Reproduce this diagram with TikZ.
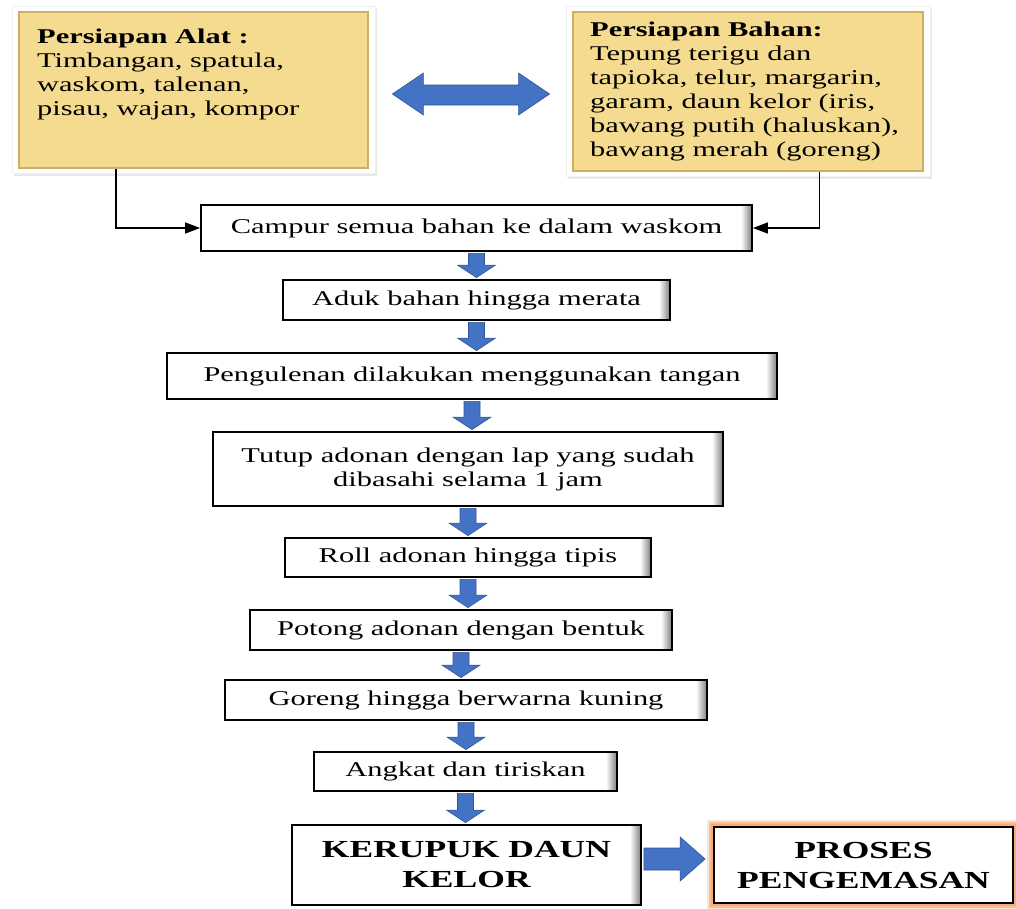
\documentclass[tikz,border=0pt]{standalone}
\usepackage{fontspec}
\setmainfont[FakeStretch=1.45]{Liberation Serif}
\usetikzlibrary{calc,shadows,arrows.meta,backgrounds}
\definecolor{ablue}{HTML}{4472C4}
\definecolor{ablueedge}{HTML}{2F5597}
\definecolor{yel}{HTML}{F5DB8F}
\definecolor{yeledge}{HTML}{CFAE62}
\definecolor{glow}{HTML}{F4B183}
\newcommand\blockdown[2]{%
  \filldraw[blockarrow] let \p1=(#1.south), \p2=(#2.north) in
    (\x1-8pt,\y1-1.5pt) -- (\x1+8pt,\y1-1.5pt) -- (\x1+8pt,\y2+14pt) --
    (\x1+19pt,\y2+14pt) -- (\x1,\y2+1.5pt) -- (\x1-19pt,\y2+14pt) --
    (\x1-8pt,\y2+14pt) -- cycle;}
\begin{document}
\begin{tikzpicture}[x=1pt,y=-1pt,
  flow/.style={draw=black, line width=1.8pt, inner sep=0pt, align=center,
    font=\fontsize{21}{24}\selectfont},
  bigflow/.style={flow, font=\fontsize{24.5}{30}\selectfont\bfseries},
  outerbox/.style={fill=white, draw=black!6, line width=0.8pt, inner sep=0pt,
    drop shadow={shadow xshift=2pt, shadow yshift=-3pt, opacity=0.18}},
  yelbox/.style={fill=yel, draw=yeledge, line width=2.5pt, inner sep=0pt},
  ytext/.style={inner sep=0pt, align=left, font=\fontsize{21}{24}\selectfont},
  conn/.style={line width=1.5pt, -{Triangle[length=15pt,width=11pt]}},
  blockarrow/.style={fill=ablue, draw=ablueedge, line width=0.6pt}]
\useasboundingbox (0,0) rectangle (1016,908);

% top boxes
\node[outerbox, minimum width=363, minimum height=167] (alatout) at (193.5,89.5) {};
\node[yelbox, minimum width=349, minimum height=156] (alat) at (193.5,90) {};
\node[ytext, anchor=north west] (alattxt) at (37,29)
  {\textbf{Persiapan Alat :}\\Timbangan, spatula,\\waskom, talenan,\\pisau, wajan, kompor};

\node[outerbox, minimum width=364, minimum height=170] (bahanout) at (748,91) {};
\node[yelbox, minimum width=350, minimum height=159] (bahan) at (748,91.5) {};
\node[ytext, anchor=north west] (bahantxt) at (590,22)
  {\textbf{Persiapan Bahan:}\\Tepung terigu dan\\tapioka, telur, margarin,\\garam, daun kelor (iris,\\bawang putih (haluskan),\\bawang merah (goreng)};

% double arrow
\filldraw[blockarrow] let \p1=(alatout.east), \p2=(bahanout.west) in
  (\x1+17pt,-94pt) -- (\x1+48pt,-73pt) -- (\x1+48pt,-85pt) -- (\x2-47pt,-85pt) --
  (\x2-47pt,-73pt) -- (\x2-16pt,-94pt) -- (\x2-47pt,-115pt) -- (\x2-47pt,-105pt) --
  (\x1+48pt,-105pt) -- (\x1+48pt,-115pt) -- cycle;

% flow boxes
\node[flow, minimum width=551, minimum height=46] (campur) at (476.5,228) {Campur semua bahan ke dalam waskom};
\node[flow, minimum width=387, minimum height=40] (aduk) at (476.5,300) {Aduk bahan hingga merata};
\node[flow, minimum width=610, minimum height=46] (uleni) at (472,376) {Pengulenan dilakukan menggunakan tangan};
\node[flow, minimum width=510, minimum height=74] (tutup) at (468,469) {Tutup adonan dengan lap yang sudah\\dibasahi selama 1 jam};
\node[flow, minimum width=366, minimum height=39] (roll) at (468,557.5) {Roll adonan hingga tipis};
\node[flow, minimum width=422, minimum height=40] (potong) at (461,630) {Potong adonan dengan bentuk};
\node[flow, minimum width=482, minimum height=40] (goreng) at (466,700) {Goreng hingga berwarna kuning};
\node[flow, minimum width=303, minimum height=39] (angkat) at (465.5,771.5) {Angkat dan tiriskan};
\node[bigflow, minimum width=349, minimum height=80] (kerupuk) at (466.5,865) {KERUPUK DAUN\\KELOR};
\node[bigflow, minimum width=299, minimum height=76] (proses) at (863.5,865) {PROSES\\PENGEMASAN};

\begin{pgfonlayer}{background}
  \foreach \n in {campur,aduk,uleni,tutup,roll,potong,goreng,angkat,kerupuk}{
    \shade[left color=white, right color=black!55] ($(\n.north east)+(-12pt,0)$) rectangle (\n.south east);
  }
  \draw[glow, line width=13pt, opacity=0.35] (proses.south west) rectangle (proses.north east);
  \draw[glow, line width=8pt, opacity=0.7] (proses.south west) rectangle (proses.north east);
  \draw[glow!90!orange, line width=4pt] (proses.south west) rectangle (proses.north east);
  \fill[white] (proses.south west) rectangle (proses.north east);
\end{pgfonlayer}

% connectors
\draw[conn] ([xshift=98pt]alat.south west) |- (campur.west);
\draw[conn] ([xshift=-105pt]bahan.south east) |- (campur.east);

% block arrows
\blockdown{campur}{aduk}
\blockdown{aduk}{uleni}
\blockdown{uleni}{tutup}
\blockdown{tutup}{roll}
\blockdown{roll}{potong}
\blockdown{potong}{goreng}
\blockdown{goreng}{angkat}
\blockdown{angkat}{kerupuk}

\filldraw[blockarrow] let \p1=(kerupuk.east), \p2=(proses.west) in
  (\x1+2pt,\y1+17pt) -- (\x2-33pt,\y1+17pt) -- (\x2-33pt,\y1+28pt) --
  (\x2-8pt,\y1+6pt) -- (\x2-33pt,\y1-16pt) -- (\x2-33pt,\y1-5pt) --
  (\x1+2pt,\y1-5pt) -- cycle;
\end{tikzpicture}
\end{document}
